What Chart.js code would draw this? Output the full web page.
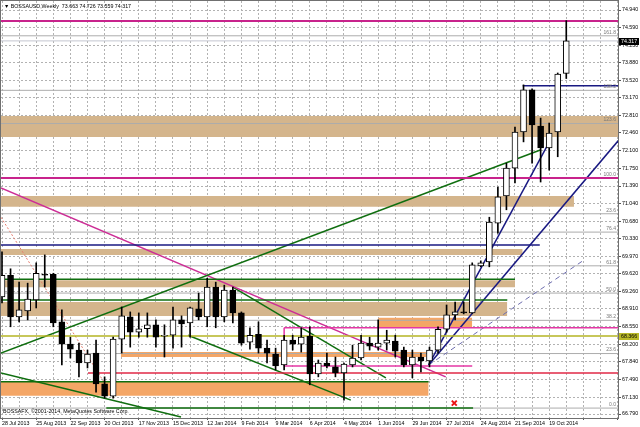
<!DOCTYPE html>
<html><head><meta charset="utf-8">
<script src="https://cdn.jsdelivr.net/npm/chart.js@4.4.0/dist/chart.umd.min.js"></script>
<style>html,body{margin:0;padding:0;background:#fff;overflow:hidden}</style>
</head><body>
<canvas id="c" width="640" height="427"></canvas>
<script>
// ---------- DATA ----------
const dateLabels = ['28 Jul 2013','25 Aug 2013','22 Sep 2013','20 Oct 2013','17 Nov 2013','15 Dec 2013','12 Jan 2014','9 Feb 2014','9 Mar 2014','6 Apr 2014','4 May 2014','1 Jun 2014','29 Jun 2014','27 Jul 2014','24 Aug 2014','21 Sep 2014','19 Oct 2014'];
const yTickValues = [66.79,67.13,67.49,67.84,68.20,68.55,68.91,69.26,69.62,69.97,70.33,70.68,71.04,71.39,71.75,72.10,72.46,72.81,73.17,73.52,73.88,74.23,74.59,74.94];

const candleOpen  = [69.15,69.59,68.75,68.87,69.09,69.61,69.61,68.65,68.20,68.08,67.82,68.02,67.40,67.15,68.30,68.75,68.44,68.51,68.59,68.36,68.38,68.69,68.63,68.91,68.75,69.35,68.75,69.29,68.83,68.24,68.40,68.12,68.00,67.78,68.28,68.20,68.36,67.60,67.82,67.74,67.62,67.78,67.92,68.22,68.14,68.22,68.26,68.08,67.78,67.94,67.86,68.08,68.50,68.79,68.85,68.83,69.78,69.86,70.64,71.19,71.75,72.48,73.33,72.60,72.16,72.48,73.663];
const candleHigh  = [70.06,69.72,69.45,69.43,69.84,70.00,69.63,68.89,68.34,68.22,68.08,68.28,67.54,68.34,68.95,68.85,68.83,68.83,68.69,68.59,68.95,68.77,68.95,69.23,69.53,69.45,69.39,69.35,68.85,68.53,68.65,68.28,68.12,68.38,68.38,68.53,68.55,67.88,68.02,67.94,67.82,68.18,68.38,68.34,68.69,68.48,68.38,68.14,68.08,68.02,68.14,68.55,68.99,69.05,69.05,69.84,69.88,70.76,71.37,71.85,72.58,73.43,73.35,72.76,72.66,73.67,74.726];
const candleLow   = [69.03,68.55,68.65,68.69,68.93,69.35,68.55,67.78,67.92,67.54,67.72,67.23,67.11,67.11,68.02,68.14,68.34,68.34,68.14,67.94,68.12,68.14,68.34,68.69,68.55,68.53,68.65,68.63,68.18,68.10,68.02,67.82,67.68,67.68,68.08,68.04,67.38,67.54,67.72,67.54,67.07,67.74,67.88,68.08,68.08,68.08,67.94,67.74,67.52,67.64,67.74,68.02,68.44,68.69,68.81,68.82,69.76,69.76,70.44,70.91,71.45,72.28,71.85,71.47,71.71,71.98,73.559];
const candleClose = [69.59,68.75,68.89,69.11,69.63,69.59,68.63,68.20,68.10,67.82,68.00,67.40,67.15,68.30,68.77,68.44,68.51,68.59,68.34,68.38,68.69,68.61,68.93,68.75,69.35,68.75,69.29,68.83,68.22,68.38,68.12,68.02,67.76,68.28,68.20,68.34,67.60,67.82,67.76,67.62,67.80,67.92,68.22,68.16,68.22,68.28,68.06,67.78,67.94,67.86,68.08,68.50,68.79,68.85,68.83,69.80,69.84,70.66,71.17,71.75,72.48,73.33,72.62,72.16,72.46,73.65,74.317];
const lastPrice = 74.317;

// support / resistance zones (week index from/to, price high/low)
const zoneFrom = [-1,  -1,   -1,   -1,   -1,   44.0, 13.9, -1];
const zoneTo   = [74,  66.9, 60.9, 60.0, 59.1, 55.0, 49.6, 49.9];
const zoneHigh = [72.80,71.19,70.12,69.49,69.05,68.73,68.04,67.44];
const zoneLow  = [72.38,70.97,70.00,69.35,68.77,68.53,67.94,67.16];
const zoneKind = ['tan','tan','tan','tan','tan','orange','orange','orange'];

// horizontal levels
const levelPrice = [74.72, 74.317, 73.41, 71.55, 70.20, 69.51, 69.09, 68.53, 68.366, 67.62, 67.44, 66.91, 67.76];
const levelFrom  = [-1,    -1,     60.9,  -1,    -1,    -1,    -1,    33.0,  -1,     10.06, -1,    12.2,  33.0];
const levelTo    = [74,    74,     74,    74,    62.9,  60.0,  59.1,  74,    74,     74,    49.9,  55.1,  55.0];
const levelKind  = ['magentaBold','bid','navy','magentaBold','navy','green','green','pink','olive','red','green','green','pink'];

// trend lines
const trendX1 = [-0.12, -0.12, 27.0,  21.75, -0.12, -0.12, 49.9,  49.9,  49.9,  33.0];
const trendY1 = [68.02, 71.35, 69.35, 68.38, 67.62, 70.76, 67.78, 67.78, 67.78, 68.53];
const trendX2 = [63.04, 51.9,  44.9,  40.8,  20.94, 13.1,  63.7,  72.16, 68.1,  33.0];
const trendY2 = [72.12, 67.54, 67.52, 67.07, 66.73, 67.11, 72.18, 72.32, 69.90, 67.76];
const trendKind = ['green','magenta','green','green','green','salmonDot','navy','navy','navyDash','pink'];

// fibonacci levels
const fibPrices = [66.91, 68.01, 68.68, 69.23, 69.78, 70.46, 70.83, 71.55, 72.65, 73.32, 74.42];
const fibLabels = ['0.0','23.6','38.2','50.0','61.8','76.4','23.6','100.0','123.6','138.2','161.8'];

// marker
const markX = [52.9];
const markY = [67.01];

// ---------- STYLES ----------
const zoneColor = { tan: 'rgb(212,181,140)', orange: 'rgb(244,166,102)' };
const lineStyle = {
  magentaBold: { c: 'rgb(200,35,140)', w: 2 },
  magenta:     { c: 'rgb(205,45,150)', w: 1.5 },
  bid:         { c: 'rgb(196,198,208)', w: 1 },
  navy:        { c: 'rgb(25,25,130)', w: 1.5 },
  green:       { c: 'rgb(15,110,15)', w: 1.5 },
  pink:        { c: 'rgb(228,55,165)', w: 1.5 },
  olive:       { c: 'rgb(180,180,35)', w: 1.5 },
  red:         { c: 'rgb(225,40,70)', w: 1.5 },
  salmonDot:   { c: 'rgb(232,125,110)', w: 1, dash: [2, 2] },
  navyDash:    { c: 'rgb(110,110,175)', w: 1, dash: [5, 4] },
  fib:         { c: 'rgb(172,172,172)', w: 1 }
};
const FONT = 'Liberation Sans';

// ---------- DATASETS ----------
const datasets = [];
zoneHigh.forEach((h, i) => {
  datasets.push({
    type: 'line', order: 5,
    data: [{ x: zoneFrom[i], y: h }, { x: zoneTo[i], y: h }],
    borderWidth: 0, pointRadius: 0,
    backgroundColor: zoneColor[zoneKind[i]],
    fill: { value: zoneLow[i] }
  });
});
fibPrices.forEach((p) => {
  datasets.push({
    type: 'line', order: 4,
    data: [{ x: -1, y: p }, { x: 74, y: p }],
    borderColor: lineStyle.fib.c, borderWidth: lineStyle.fib.w, pointRadius: 0, fill: false
  });
});
levelPrice.forEach((p, i) => {
  const s = lineStyle[levelKind[i]];
  datasets.push({
    type: 'line', order: 2,
    data: [{ x: levelFrom[i], y: p }, { x: levelTo[i], y: p }],
    borderColor: s.c, borderWidth: s.w, borderDash: s.dash || [], pointRadius: 0, fill: false
  });
});
trendX1.forEach((x1, i) => {
  const s = lineStyle[trendKind[i]];
  datasets.push({
    type: 'line', order: 2,
    data: [{ x: x1, y: trendY1[i] }, { x: trendX2[i], y: trendY2[i] }],
    borderColor: s.c, borderWidth: s.w, borderDash: s.dash || [], pointRadius: 0, fill: false
  });
});
// wicks
datasets.push({
  type: 'bar', order: 1, grouped: false,
  data: candleOpen.map((o, i) => ({ x: i, y: [candleLow[i], candleHigh[i]] })),
  backgroundColor: '#000', borderWidth: 0, barThickness: 1
});
// bodies
datasets.push({
  type: 'bar', order: 0, grouped: false,
  data: candleOpen.map((o, i) => ({ x: i, y: [o, candleClose[i]] })),
  backgroundColor: candleOpen.map((o, i) => candleClose[i] >= o ? '#ffffff' : '#000000'),
  borderColor: '#000', borderWidth: 1, borderSkipped: false, barThickness: 6, minBarLength: 1
});
// marker
datasets.push({
  type: 'line', order: 0, showLine: false,
  data: markX.map((x, i) => ({ x, y: markY[i] })),
  pointStyle: 'crossRot', pointRadius: 3.5, borderColor: 'rgb(235,20,20)', borderWidth: 2
});

// ---------- PLUGIN (frame, texts) ----------
const mt4 = {
  id: 'mt4',
  beforeDraw(chart) {
    const ctx = chart.ctx;
    ctx.save(); ctx.fillStyle = '#fff'; ctx.fillRect(0, 0, chart.width, chart.height); ctx.restore();
  },
  afterDraw(chart) {
    const ctx = chart.ctx, ca = chart.chartArea, ys = chart.scales.y;
    ctx.save();
    ctx.strokeStyle = '#707070'; ctx.lineWidth = 1;
    ctx.strokeRect(ca.left - 0.5, ca.top - 0.5, ca.right - ca.left + 1, ca.bottom - ca.top + 1);
    ctx.font = '5px "' + FONT + '"';
    ctx.fillStyle = 'rgb(120,120,120)';
    ctx.textAlign = 'right'; ctx.textBaseline = 'bottom';
    fibPrices.forEach((p, i) => {
      ctx.fillText(fibLabels[i], ca.right - 2, ys.getPixelForValue(p) - 1);
    });
    ctx.textAlign = 'left'; ctx.textBaseline = 'middle'; ctx.fillStyle = '#000';
    ctx.font = '5.3px "' + FONT + '"';
    ctx.fillText('\u25BC BOSSAUSD,Weekly  ' + candleOpen[66].toFixed(3) + ' ' + candleHigh[66].toFixed(3) + ' ' + candleLow[66].toFixed(3) + ' ' + candleClose[66].toFixed(3), 4, 7);
    ctx.fillText('BOSSAFX, \u00A92001-2014, MetaQuotes Software Corp.', 3, 412);
    const yp = ys.getPixelForValue(lastPrice);
    ctx.fillStyle = '#000'; ctx.fillRect(ca.right + 1, Math.round(yp) - 3, 20, 7);
    ctx.fillStyle = '#fff'; ctx.fillText(lastPrice.toFixed(3), ca.right + 3, Math.round(yp) + 0.5);
    const yo = ys.getPixelForValue(levelPrice[8]);
    ctx.fillStyle = 'rgb(185,185,40)'; ctx.fillRect(ca.right + 1, Math.round(yo) - 3, 20, 7);
    ctx.fillStyle = '#000'; ctx.fillText(levelPrice[8].toFixed(3), ca.right + 3, Math.round(yo) + 0.5);
    ctx.restore();
  }
};

const noPad = (s) => { s.paddingLeft = 0; s.paddingRight = 0; s.paddingTop = 0; s.paddingBottom = 0; };

// ---------- CHART ----------
new Chart(document.getElementById('c'), {
  type: 'bar',
  data: { datasets },
  plugins: [mt4],
  options: {
    responsive: false, animation: false, events: [],
    layout: { autoPadding: false, padding: { left: 1, top: 1, right: 0, bottom: 0 } },
    plugins: { legend: { display: false }, tooltip: { enabled: false } },
    scales: {
      x: {
        type: 'linear', offset: false, min: -0.117, max: 72.05,
        grid: { offset: false, color: 'rgb(178,178,178)', lineWidth: 1, tickLength: 2,
                tickColor: (c) => (c.index % 2 === 0 ? '#555' : 'rgba(0,0,0,0)') },
        border: { color: '#555', dash: [2, 2] },
        afterBuildTicks: (axis) => {
          const t = []; for (let i = 0; i <= 72; i += 2) t.push({ value: i }); axis.ticks = t;
        },
        afterFit: (s) => { s.height = 9; noPad(s); },
        ticks: {
          autoSkip: false, maxRotation: 0, minRotation: 0, align: 'start', padding: 0,
          color: '#000', font: { family: FONT, size: 5.3 },
          callback: (v) => { const k = Math.round(v); return (k % 4 === 0 && k / 4 < dateLabels.length) ? dateLabels[k / 4] : ''; }
        }
      },
      y: {
        type: 'linear', position: 'right', min: 66.710, max: 75.122,
        grid: { color: 'rgb(178,178,178)', lineWidth: 1, tickLength: 3, tickColor: '#555' },
        border: { color: '#555', dash: [2, 2] },
        afterBuildTicks: (axis) => { axis.ticks = yTickValues.map(v => ({ value: v })); },
        afterFit: (s) => { s.width = 22; noPad(s); },
        ticks: {
          autoSkip: false, padding: 1, color: '#000', font: { family: FONT, size: 5.3 },
          callback: (v) => Number(v).toFixed(3)
        }
      }
    }
  }
});
</script>
</body></html>
